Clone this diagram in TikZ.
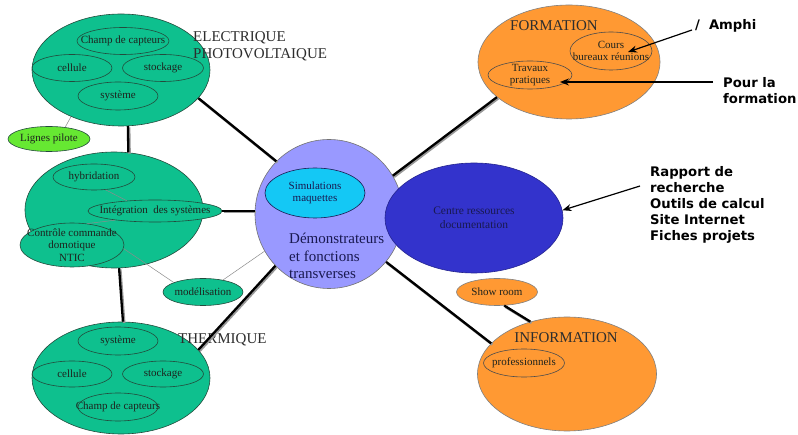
\documentclass[tikz,border=0pt]{standalone}
\usepackage{fontspec}
\setmainfont{Liberation Serif}
\newfontfamily\notefont{DejaVu Sans}
\usetikzlibrary{shapes.geometric,arrows.meta}

\definecolor{solarteal}{RGB}{14,192,142}
\definecolor{pilotgreen}{RGB}{102,232,50}
\definecolor{demolilac}{RGB}{153,153,255}
\definecolor{simcyan}{RGB}{20,200,245}
\definecolor{docblue}{RGB}{51,51,204}
\definecolor{orangefill}{RGB}{255,153,51}
\definecolor{edgedark}{RGB}{35,75,60}
\definecolor{inkdark}{RGB}{30,35,30}
\definecolor{navyink}{RGB}{25,25,80}
\definecolor{titlegray}{RGB}{45,45,45}

\tikzset{
  x=1pt, y=-1pt,
  bigblob/.style={ellipse, draw=edgedark, line width=0.6pt, inner sep=0pt},
  subblob/.style={ellipse, draw=edgedark, line width=0.6pt, inner sep=0pt},
  subtext/.style={inner sep=0pt, align=center, text=inkdark,
    font=\fontsize{11}{12.5}\selectfont},
  inlabel/.style={label={[subtext]center:#1}},
  areatitle/.style={inner sep=0pt, align=left, text=titlegray,
    font=\fontsize{15}{17}\selectfont},
  notetext/.style={inner sep=0pt, align=left, text=black,
    font=\notefont\bfseries\fontsize{13.2}{16}\selectfont},
  link/.style={line width=2.3pt, draw=black, line cap=butt,
    preaction={draw=black!40, line width=2.6pt,
      transform canvas={shift={(1.2pt,-1.2pt)}}}},
  thinlink/.style={draw=black!45, line width=0.5pt},
  pointer/.style={draw=black, line width=1.2pt,
    -{Stealth[length=9pt,width=7pt]}},
}

\begin{document}
\begin{tikzpicture}
\useasboundingbox[fill=white] (0,0) rectangle (798,435);

% ---- photovoltaic area ----
\node[bigblob, fill=solarteal, minimum width=178pt, minimum height=112pt] (elec) at (121,70) {};
\node[subblob, minimum width=92pt, minimum height=27pt, inlabel={Champ de capteurs}] (champA) at (123,41) {};
\node[subblob, minimum width=80pt, minimum height=27pt, inlabel={cellule}] (cellA) at (72,68) {};
\node[subblob, minimum width=81pt, minimum height=27pt, inlabel={stockage}] (stockA) at (163,68) {};
\node[subblob, minimum width=80pt, minimum height=28pt, inlabel={système}] (sysA) at (118,96) {};
\node[areatitle, anchor=west] (elecTitle) at (193,46.5) {ELECTRIQUE\\PHOTOVOLTAIQUE};

\node[subblob, fill=pilotgreen, minimum width=82pt, minimum height=25pt, inlabel={Lignes pilote}] (pilote) at (49,139) {};

% ---- systems integration area ----
\node[bigblob, fill=solarteal, minimum width=178pt, minimum height=116pt] (mid) at (114,210) {};
\node[subblob, minimum width=82pt, minimum height=26pt, inlabel={hybridation}] (hyb) at (94,177) {};
\node[subblob, fill=solarteal, minimum width=104pt, minimum height=44pt,
      inlabel={Contrôle commande\\domotique\\NTIC}] (ctrl) at (72,245) {};
\node[subblob, fill=solarteal, minimum width=134pt, minimum height=22pt,
      inlabel={Intégration\ \ des systèmes}] (integ) at (155,211) {};
\node[subblob, fill=solarteal, minimum width=80pt, minimum height=27pt, inlabel={modélisation}] (model) at (203,292) {};

% ---- thermal area ----
\node[bigblob, fill=solarteal, minimum width=178pt, minimum height=112pt] (therm) at (121,378) {};
\node[subblob, minimum width=80pt, minimum height=28pt, inlabel={système}] (sysB) at (118,341) {};
\node[subblob, minimum width=80pt, minimum height=26pt, inlabel={cellule}] (cellB) at (72,374) {};
\node[subblob, minimum width=81pt, minimum height=26pt, inlabel={stockage}] (stockB) at (163,374) {};
\node[subblob, minimum width=80pt, minimum height=28pt, inlabel={Champ de capteurs}] (champB) at (118,407) {};
\node[areatitle, anchor=west] (thermTitle) at (178,340) {THERMIQUE};

% ---- demonstrators hub ----
\node[bigblob, draw=black!55, fill=demolilac, minimum width=148pt, minimum height=149pt] (demo) at (329,214) {};
\node[subblob, draw=navyink, fill=simcyan, minimum width=100pt, minimum height=50pt,
      label={[subtext, text=navyink]center:{Simulations\\maquettes}}] (simu) at (315,193) {};
\node[inner sep=0pt, align=left, text=navyink, font=\fontsize{15}{17.5}\selectfont, anchor=west] (demoText) at (289,256) {Démonstrateurs\\et fonctions\\transverses};

% ---- documentation centre ----
\node[bigblob, draw=docblue!70!black, fill=docblue, minimum width=178pt, minimum height=110pt,
      label={[subtext, text=navyink, font=\fontsize{11.5}{14}\selectfont]center:{Centre ressources\\documentation}}] (centre) at (474,218) {};

% ---- training area ----
\node[bigblob, draw=black!50, fill=orangefill, minimum width=182pt, minimum height=114pt] (form) at (569,62) {};
\node[areatitle, anchor=west] (formTitle) at (510,26) {FORMATION};
\node[subblob, draw=black!70, minimum width=82pt, minimum height=38pt, inlabel={Cours\\bureaux réunions}] (cours) at (611,51) {};
\node[subblob, draw=black!70, minimum width=84pt, minimum height=28pt, inlabel={Travaux\\pratiques}] (trav) at (530,75) {};

% ---- information area ----
\node[subblob, draw=black!50, fill=orangefill, minimum width=81pt, minimum height=27pt, inlabel={Show room}] (show) at (497,292) {};
\node[bigblob, draw=black!50, fill=orangefill, minimum width=179pt, minimum height=114pt] (info) at (567,374) {};
\node[areatitle, anchor=center] (infoTitle) at (566,338) {INFORMATION};
\node[subblob, draw=black!70, minimum width=81pt, minimum height=28pt, inlabel={professionnels}] (prof) at (524,363) {};

% ---- notes ----
\node[notetext, anchor=west] (amphi) at (695,26) {/\hspace{9pt}Amphi};
\node[notetext, anchor=west] (pourla) at (723,91) {Pour la\\formation};
\node[notetext, anchor=north west] (rapport) at (650,166) {Rapport de\\recherche\\Outils de calcul\\Site Internet\\Fiches projets};

% ---- main links ----
\draw[link] (elec.-20) -- (demo.135);
\draw[link] (elec.-83) -- (mid.76);
\draw[link] (integ.east) -- (integ.east -| demo.west);
\draw[link] (mid.-85) -- (therm.88);
\draw[link] (therm.20) -- (demo.224);
\draw[link] (demo.31) -- (form.206);
\draw[link] (demo.-40) -- (info.158);
\draw[link] (show.-62) -- (info.125);

% ---- secondary links ----
\draw[thinlink] (elec.223) -- (pilote.36);
\draw[thinlink] (hyb.-48) -- (integ.160);
\draw[thinlink] (integ.193) -- (ctrl.55);
\draw[thinlink] (ctrl.-4) -- (model.162);
\draw[thinlink] (model.31) -- (demo.210);

% ---- note pointers ----
\coordinate (amphiStart) at (692,30);
\coordinate (coursTip) at (628,52);
\coordinate (pourStart) at (713,82);
\coordinate (travTip) at (560,82);
\coordinate (rapportStart) at (640,186);
\draw[pointer] (amphiStart) -- (coursTip);
\draw[pointer] (pourStart) -- (travTip);
\draw[pointer] (rapportStart) -- (centre.5);
\end{tikzpicture}
\end{document}
